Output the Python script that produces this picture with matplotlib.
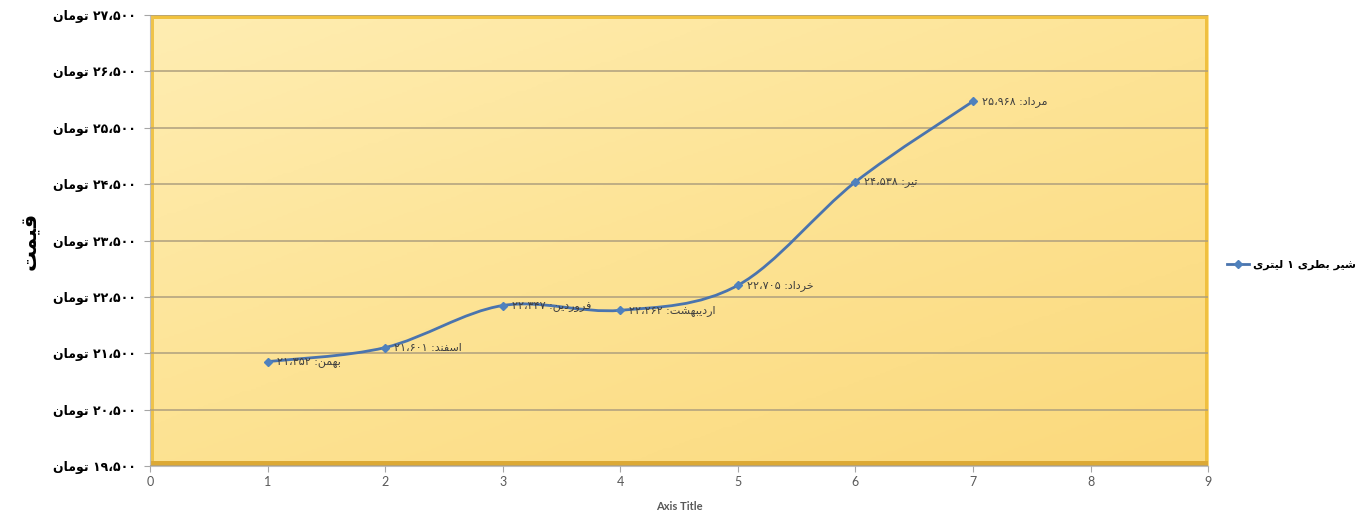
import re
import numpy as np
import matplotlib
matplotlib.use('Agg')
import matplotlib.pyplot as plt
from matplotlib.path import Path
from matplotlib.patches import PathPatch, Rectangle
from matplotlib.lines import Line2D
from matplotlib.colors import LinearSegmentedColormap

# --- Dati ---
MONTHS = ['بهمن', 'اسفند', 'فروردین', 'اردیبهشت', 'خرداد', 'تیر', 'مرداد']
PRICES = [21352, 21601, 22347, 22262, 22705, 24538, 25968]
X_POS = [1, 2, 3, 4, 5, 6, 7]
Y_TICKS = [19500, 20500, 21500, 22500, 23500, 24500, 25500, 26500, 27500]
X_TICKS = [0, 1, 2, 3, 4, 5, 6, 7, 8, 9]
SERIES_NAME = 'شیر بطری ۱ لیتری'
CURRENCY = 'تومان'
Y_TITLE = 'قیمت'
X_TITLE = 'Axis Title'

LINE_COLOR = '#4A74AE'
MARKER_COLOR = '#4F81BD'

# --- Persiano: forme di presentazione (matplotlib non fa shaping) ---
FORMS = {
    'ا': ('\uFE8D', '\uFE8E', None, None),
    'ب': ('\uFE8F', '\uFE90', '\uFE91', '\uFE92'),
    'ت': ('\uFE95', '\uFE96', '\uFE97', '\uFE98'),
    'خ': ('\uFEA5', '\uFEA6', '\uFEA7', '\uFEA8'),
    'د': ('\uFEA9', '\uFEAA', None, None),
    'ر': ('\uFEAD', '\uFEAE', None, None),
    'س': ('\uFEB1', '\uFEB2', '\uFEB3', '\uFEB4'),
    'ش': ('\uFEB5', '\uFEB6', '\uFEB7', '\uFEB8'),
    'ط': ('\uFEC1', '\uFEC2', '\uFEC3', '\uFEC4'),
    'ف': ('\uFED1', '\uFED2', '\uFED3', '\uFED4'),
    'ق': ('\uFED5', '\uFED6', '\uFED7', '\uFED8'),
    'ل': ('\uFEDD', '\uFEDE', '\uFEDF', '\uFEE0'),
    'م': ('\uFEE1', '\uFEE2', '\uFEE3', '\uFEE4'),
    'ن': ('\uFEE5', '\uFEE6', '\uFEE7', '\uFEE8'),
    'ه': ('\uFEE9', '\uFEEA', '\uFEEB', '\uFEEC'),
    'و': ('\uFEED', '\uFEEE', None, None),
    'ی': ('\uFBFC', '\uFBFD', '\uFBFE', '\uFBFF'),
    'ي': ('\uFBFC', '\uFBFD', '\uFBFE', '\uFBFF'),
}
FA_DIGITS = str.maketrans('0123456789', '۰۱۲۳۴۵۶۷۸۹')
NUM_RE = r'[۰-۹]+(?:[،٬][۰-۹]+)*'


def shape(s):
    out = []
    for i, c in enumerate(s):
        f = FORMS.get(c)
        if f is None:
            out.append(c)
            continue
        prev = s[i - 1] if i > 0 else ''
        nxt = s[i + 1] if i + 1 < len(s) else ''
        join_prev = prev in FORMS and FORMS[prev][2] is not None
        join_next = nxt in FORMS and f[2] is not None
        if join_prev and join_next:
            out.append(f[3])
        elif join_prev:
            out.append(f[1])
        elif join_next:
            out.append(f[2])
        else:
            out.append(f[0])
    return ''.join(out)


def fa(text):
    # ordine visivo: le parole vanno invertite, i numeri restano LTR
    parts = [p for p in re.split('(' + NUM_RE + ')', text) if p]
    vis = [p if re.fullmatch(NUM_RE, p) else shape(p)[::-1] for p in parts]
    return ''.join(reversed(vis))


def fa_num(v):
    return f'{v:,}'.replace(',', '،').translate(FA_DIGITS)


fig = plt.figure(figsize=(13.7, 5.19), dpi=100)
ax = fig.add_axes([0.1095, 0.1021, 0.7723, 0.869])
ax.set_xlim(0, 9)
ax.set_ylim(19500, 27500)

# sfondo giallo con effetto "bevel"
cmap = LinearSegmentedColormap.from_list('bg', ['#FFEDB2', '#FDE394', '#FBD97C'])
gx, gy = np.meshgrid(np.linspace(0, 1, 200), np.linspace(0, 1, 200))
ax.imshow(0.45 * gx + 0.55 * gy, cmap=cmap, extent=[0, 1, 0, 1], transform=ax.transAxes,
          aspect='auto', origin='upper', zorder=0)
bevel = [
    ((0, 0.991), 1, 0.009, '#F1C23E'),
    ((0, 0), 0.004, 1, '#EFC34A'),
    ((0.997, 0), 0.003, 1, '#F0C040'),
    ((0, 0), 1, 0.012, '#DCA935'),
]
for xy, w, h, c in bevel:
    ax.add_patch(Rectangle(xy, w, h, transform=ax.transAxes, color=c, lw=0, zorder=1, clip_on=False))

for s in ['top', 'right']:
    ax.spines[s].set_visible(False)
ax.spines['left'].set_color('#BFBFBF')
ax.spines['bottom'].set_color('#BFBFBF')

ax.set_yticks(Y_TICKS)
ax.set_yticklabels([fa(fa_num(v) + ' ' + CURRENCY) for v in Y_TICKS],
                   fontsize=9, fontweight='bold', color='black')
ax.set_xticks(X_TICKS)
ax.set_xticklabels([str(v) for v in X_TICKS], fontsize=9, color='#595959', family='Lato')
ax.tick_params(axis='both', color='#A6A6A6', length=4, direction='out')
ax.tick_params(axis='y', pad=6)
ax.tick_params(axis='x', pad=3)
ax.yaxis.grid(True, color='#AE9F7E', linewidth=1.1, zorder=2)
ax.set_axisbelow(False)

ax.set_ylabel(fa(Y_TITLE), fontsize=15, fontweight='bold', color='black')
ax.yaxis.set_label_coords(-0.104, 0.5)
ax.set_xlabel(X_TITLE, fontsize=8, fontweight='bold', color='#595959', family='Lato')
ax.xaxis.set_label_coords(0.5, -0.078)

# curva smussata come in Excel (Catmull-Rom -> Bezier)
pts = np.column_stack([X_POS, PRICES]).astype(float)
ext = np.vstack([pts[0], pts, pts[-1]])
verts = [tuple(pts[0])]
codes = [Path.MOVETO]
for i in range(len(pts) - 1):
    p0, p1, p2, p3 = ext[i], ext[i + 1], ext[i + 2], ext[i + 3]
    verts += [tuple(p1 + (p2 - p0) / 6), tuple(p2 - (p3 - p1) / 6), tuple(p2)]
    codes += [Path.CURVE4] * 3
ax.add_patch(PathPatch(Path(verts, codes), facecolor='none', edgecolor=LINE_COLOR,
                       lw=2, zorder=3, capstyle='round'))
ax.plot(X_POS, PRICES, linestyle='none', marker='D', markersize=4.5,
        color=MARKER_COLOR, zorder=4)

for x, y, m in zip(X_POS, PRICES, MONTHS):
    ax.annotate(fa(m + ': ' + fa_num(y)), (x, y), xytext=(9, 0), textcoords='offset pixels',
                ha='left', va='center', fontsize=8, color='#3F3F3F', zorder=5)

handle = Line2D([], [], color=LINE_COLOR, lw=2, marker='D', markersize=4.5,
                markerfacecolor=MARKER_COLOR, markeredgecolor=MARKER_COLOR)
ax.legend([handle], [fa(SERIES_NAME)], loc='center left', bbox_to_anchor=(1.008, 0.446),
          frameon=False, handlelength=2.0, handletextpad=0.4,
          prop={'weight': 'bold', 'size': 8})

fig.savefig('out.png', dpi=100, facecolor='white')
